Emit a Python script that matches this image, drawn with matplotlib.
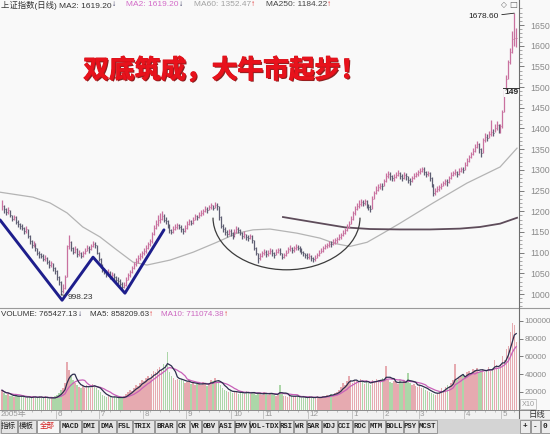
import numpy as np
import pandas as pd
import matplotlib
matplotlib.use("Agg")
import matplotlib.pyplot as plt
import matplotlib.patheffects as pe
from matplotlib.patches import Arc, Rectangle
from matplotlib.lines import Line2D
from matplotlib.ticker import MultipleLocator

plt.rcParams['font.family'] = ['Liberation Sans', 'Noto Sans CJK SC', 'DejaVu Sans']

# ---------------- daily prices (Shanghai Composite) ----------------
close = [
    1212, 1205, 1198, 1203, 1190, 1182, 1186, 1175, 1168, 1164,
    1160, 1152, 1156, 1140, 1128, 1118, 1122, 1110, 1100, 1096,
    1092, 1085, 1088, 1078, 1070, 1074, 1062, 1055, 1040, 1030,
    1008, 1014, 1040, 1115, 1125, 1110, 1102, 1108, 1096, 1100,
    1092, 1098, 1105, 1112, 1108, 1115, 1122, 1118, 1100, 1085,
    1068, 1060, 1055, 1048, 1052, 1042, 1046, 1040, 1035, 1032,
    1025, 1018, 1022, 1035, 1045, 1052, 1062, 1072, 1080, 1088,
    1092, 1098, 1105, 1112, 1120, 1128, 1145, 1160, 1170, 1178,
    1182, 1188, 1180, 1176, 1168, 1155, 1150, 1158, 1162, 1166,
    1162, 1158, 1152, 1160, 1170, 1176, 1172, 1180, 1188, 1185,
    1192, 1196, 1200, 1206, 1203, 1210, 1214, 1208, 1216, 1212,
    1185, 1165, 1158, 1150, 1145, 1152, 1148, 1140, 1150, 1158,
    1155, 1148, 1140, 1145, 1138, 1135, 1140, 1130, 1112, 1100,
    1088, 1092, 1098, 1102, 1096, 1100, 1104, 1098, 1095, 1102,
    1106, 1098, 1090, 1094, 1100, 1108, 1112, 1106, 1110, 1114,
    1112, 1108, 1102, 1098, 1094, 1090, 1092, 1086, 1084, 1088,
    1095, 1100, 1104, 1110, 1115, 1118, 1122, 1120, 1126, 1130,
    1132, 1138, 1142, 1148, 1155, 1162, 1170, 1182, 1195, 1205,
    1212, 1218, 1222, 1220, 1224, 1216, 1210, 1205, 1230, 1245,
    1252, 1258, 1262, 1260, 1272, 1285, 1290, 1284, 1280, 1282,
    1288, 1292, 1286, 1280, 1288, 1284, 1276, 1272, 1280, 1286,
    1290, 1294, 1298, 1302, 1296, 1290, 1292, 1280, 1265, 1245,
    1250, 1254, 1258, 1262, 1268, 1272, 1270, 1280, 1288, 1292,
    1296, 1290, 1298, 1302, 1300, 1312, 1322, 1330, 1338, 1345,
    1355, 1362, 1350, 1340, 1372, 1380, 1378, 1386, 1392, 1390,
    1402, 1408, 1396, 1405, 1440, 1488, 1520, 1560, 1585, 1615, 1619.2, 1619.2,
]
high = [
    1228, 1214, 1208, 1210, 1204, 1192, 1192, 1188, 1178, 1172,
    1168, 1162, 1164, 1158, 1142, 1130, 1128, 1124, 1112, 1104,
    1100, 1096, 1094, 1090, 1082, 1080, 1076, 1066, 1058, 1044,
    1032, 1024, 1046, 1118, 1142, 1128, 1114, 1116, 1110, 1106,
    1102, 1104, 1110, 1118, 1116, 1120, 1128, 1126, 1118, 1102,
    1086, 1072, 1064, 1058, 1060, 1056, 1052, 1050, 1044, 1040,
    1036, 1028, 1028, 1040, 1050, 1058, 1068, 1078, 1086, 1094,
    1098, 1104, 1110, 1118, 1126, 1134, 1150, 1166, 1180, 1190,
    1196, 1200, 1194, 1186, 1180, 1170, 1158, 1164, 1170, 1172,
    1170, 1166, 1160, 1166, 1176, 1182, 1180, 1186, 1194, 1192,
    1198, 1202, 1206, 1212, 1210, 1216, 1220, 1216, 1222, 1220,
    1212, 1188, 1170, 1162, 1154, 1158, 1156, 1150, 1156, 1164,
    1162, 1158, 1150, 1152, 1146, 1142, 1146, 1142, 1130, 1114,
    1100, 1098, 1104, 1108, 1106, 1106, 1110, 1108, 1102, 1108,
    1112, 1110, 1100, 1100, 1106, 1114, 1118, 1114, 1116, 1120,
    1118, 1116, 1110, 1104, 1100, 1098, 1098, 1094, 1090, 1094,
    1100, 1106, 1110, 1116, 1120, 1124, 1128, 1128, 1132, 1136,
    1138, 1144, 1148, 1154, 1160, 1168, 1176, 1188, 1200, 1212,
    1220, 1226, 1230, 1228, 1230, 1226, 1218, 1214, 1236, 1250,
    1260, 1266, 1268, 1268, 1278, 1292, 1298, 1294, 1288, 1290,
    1294, 1300, 1296, 1290, 1294, 1292, 1286, 1280, 1286, 1292,
    1296, 1300, 1304, 1308, 1306, 1298, 1298, 1294, 1282, 1266,
    1256, 1260, 1264, 1268, 1274, 1278, 1278, 1286, 1294, 1298,
    1302, 1298, 1304, 1308, 1308, 1318, 1328, 1336, 1344, 1352,
    1362, 1370, 1366, 1352, 1378, 1388, 1386, 1394, 1420, 1398,
    1410, 1418, 1412, 1410, 1445, 1492, 1530, 1566, 1595, 1635, 1678.6, 1642,
]
low = [
    1204, 1196, 1192, 1194, 1186, 1176, 1178, 1170, 1162, 1158,
    1154, 1146, 1148, 1136, 1122, 1112, 1114, 1104, 1094, 1088,
    1086, 1080, 1080, 1072, 1064, 1066, 1056, 1048, 1034, 1022,
    998.23, 1002, 1012, 1040, 1108, 1104, 1096, 1098, 1090, 1092,
    1086, 1090, 1096, 1104, 1100, 1106, 1114, 1110, 1096, 1080,
    1064, 1054, 1048, 1042, 1044, 1036, 1038, 1034, 1028, 1024,
    1020, 1012, 1014, 1020, 1034, 1042, 1050, 1060, 1068, 1076,
    1082, 1088, 1094, 1100, 1108, 1116, 1124, 1142, 1156, 1164,
    1172, 1178, 1174, 1168, 1160, 1148, 1144, 1148, 1154, 1158,
    1156, 1150, 1146, 1150, 1158, 1166, 1166, 1170, 1178, 1178,
    1184, 1188, 1192, 1198, 1196, 1202, 1206, 1202, 1208, 1204,
    1180, 1160, 1150, 1142, 1138, 1142, 1140, 1134, 1138, 1148,
    1148, 1142, 1134, 1136, 1130, 1128, 1132, 1124, 1106, 1094,
    1076, 1082, 1090, 1094, 1090, 1092, 1096, 1092, 1088, 1094,
    1098, 1094, 1084, 1086, 1092, 1100, 1104, 1100, 1102, 1106,
    1106, 1102, 1096, 1092, 1088, 1084, 1084, 1080, 1078, 1080,
    1086, 1092, 1098, 1102, 1108, 1110, 1114, 1114, 1118, 1122,
    1124, 1130, 1134, 1140, 1146, 1152, 1160, 1168, 1180, 1192,
    1202, 1208, 1212, 1212, 1214, 1208, 1202, 1198, 1206, 1230,
    1242, 1250, 1254, 1252, 1260, 1270, 1280, 1276, 1272, 1274,
    1280, 1284, 1278, 1272, 1278, 1276, 1268, 1264, 1270, 1278,
    1282, 1286, 1290, 1294, 1288, 1282, 1284, 1272, 1258, 1238,
    1240, 1246, 1250, 1254, 1260, 1264, 1262, 1268, 1278, 1284,
    1288, 1282, 1288, 1294, 1292, 1300, 1310, 1320, 1328, 1336,
    1344, 1352, 1340, 1330, 1340, 1368, 1370, 1376, 1382, 1382,
    1392, 1396, 1388, 1390, 1402, 1440, 1486, 1520, 1556, 1582, 1600, 1597,
]
volume = [
    220000, 190000, 170000, 180000, 150000, 160000, 140000, 170000, 150000, 140000,
    160000, 140000, 130000, 150000, 140000, 130000, 160000, 140000, 130000, 150000,
    140000, 130000, 150000, 130000, 120000, 140000, 130000, 150000, 170000, 190000,
    220000, 250000, 300000, 540000, 450000, 380000, 330000, 300000, 280000, 260000,
    250000, 270000, 240000, 280000, 260000, 250000, 290000, 270000, 240000, 220000,
    200000, 170000, 150000, 140000, 160000, 140000, 130000, 150000, 140000, 130000,
    140000, 130000, 150000, 180000, 200000, 220000, 210000, 250000, 280000, 270000,
    300000, 340000, 320000, 360000, 380000, 350000, 400000, 440000, 420000, 460000,
    480000, 450000, 520000, 500000, 650000, 420000, 380000, 360000, 340000, 350000,
    330000, 350000, 320000, 300000, 310000, 330000, 290000, 300000, 280000, 290000,
    300000, 280000, 310000, 290000, 270000, 300000, 340000, 320000, 360000, 300000,
    320000, 280000, 250000, 220000, 210000, 200000, 220000, 190000, 210000, 200000,
    180000, 200000, 190000, 180000, 210000, 190000, 180000, 200000, 190000, 170000,
    190000, 180000, 170000, 200000, 180000, 170000, 190000, 180000, 170000, 160000,
    170000, 280000, 180000, 150000, 160000, 140000, 170000, 150000, 140000, 160000,
    150000, 140000, 130000, 150000, 140000, 130000, 150000, 140000, 130000, 140000,
    150000, 130000, 140000, 160000, 150000, 170000, 160000, 180000, 170000, 190000,
    200000, 220000, 260000, 300000, 280000, 320000, 380000, 340000, 300000, 330000,
    320000, 300000, 350000, 310000, 290000, 330000, 300000, 280000, 340000, 320000,
    350000, 330000, 310000, 360000, 340000, 490000, 330000, 310000, 300000, 320000,
    310000, 290000, 330000, 300000, 320000, 310000, 410000, 300000, 280000, 290000,
    270000, 260000, 280000, 250000, 240000, 220000, 210000, 200000, 190000, 180000,
    170000, 190000, 210000, 240000, 220000, 260000, 280000, 270000, 300000, 330000,
    510000, 340000, 360000, 380000, 400000, 370000, 420000, 440000, 410000, 460000,
    450000, 470000, 430000, 440000, 460000, 420000, 450000, 480000, 440000, 470000,
    560000, 500000, 460000, 520000, 600000, 560000, 679695.65, 715621.02, 880000,
    980000, 950000, 765427.13,
]
assert len(close) == len(high) == len(low) == len(volume)

# moving-average curves (bar index, index level)
ma60_bar = [-1, 15.7, 24.4, 33, 41, 49.7, 58.4, 66.5, 73.6, 85.3, 97, 109, 119.3,
            127.4, 136, 149.7, 161.4, 169, 176.6, 185.3, 193.4, 202, 218.8, 236,
            252.8, 261.4]
ma60_val = [1246, 1234, 1220, 1196, 1162, 1138, 1106, 1077, 1070, 1082, 1101, 1125,
            1147, 1155, 1157, 1147, 1135, 1122, 1115, 1125, 1147, 1171, 1220, 1268,
            1307, 1352.47]
ma250_bar = [142.6, 151.3, 161.4, 174.1, 186.8, 202, 217.3, 232.5, 242.6, 252.8, 261.4]
ma250_val = [1186, 1179, 1171, 1161, 1157, 1156, 1156, 1158, 1162, 1170, 1184.22]

# hand-drawn "double bottom" W and the rounded bottom
w_bar = [-1.0, 30.5, 46.2, 62.4, 82.2]
w_val = [1179, 985, 1089, 1002, 1155]
bowl_bar, bowl_val = 144.4, 1184.5
bowl_half_bars, bowl_depth = 37.3, 126

month_bars = [28, 50, 72, 94, 117, 133, 156, 178, 194, 212, 235, 254]
month_labels = ['6', '7', '8', '9', '10', '11', '12', '1', '2', '3', '4', '5']
price_ticks = list(range(1000, 1651, 50))
volume_ticks = [20000, 40000, 60000, 80000, 100000]

tab_labels = ['指标', '模板', '全部', 'MACD', 'DMI', 'DMA', 'FSL', 'TRIX', 'BRAR', 'CR',
              'VR', 'OBV', 'ASI', 'EMV', 'VOL-TDX', 'RSI', 'WR', 'SAR', 'KDJ', 'CCI',
              'ROC', 'MTM', 'BOLL', 'PSY', 'MCST']
tab_edges = [0, 17, 36, 59, 81, 98, 116, 132, 154, 176, 189, 201, 218, 234, 249, 279,
             293, 306, 321, 337, 352, 368, 385, 403, 418, 437]

# ---------------- layout helpers (pixel space, y downwards) ----------------
W, H = 550, 434
fig = plt.figure(figsize=(W / 100, H / 100), dpi=100)
fig.patch.set_facecolor('#f9f9f9')


def fx(px):
    return px / W


def fy(py):
    return 1 - py / H


def px_axes(x0, y0, x1, y1):
    a = fig.add_axes([x0 / W, 1 - y1 / H, (x1 - x0) / W, (y1 - y0) / H])
    a.patch.set_alpha(0)
    for s in a.spines.values():
        s.set_visible(False)
    return a


X0, X1 = -1.015, 262.4
UPC, DNC = '#c9719f', '#5e5e72'

c = np.array(close, float)
h = np.array(high, float)
l = np.array(low, float)
v = np.array(volume, float) / 10.0
idx = np.arange(len(c))
prev = np.r_[c[0], c[:-1]]
up = c >= prev

# ---------------- price panel ----------------
ax = px_axes(0, 8, 519, 307)
ax.set_xlim(X0, X1)
ax.set_ylim(968.6, 1691.1)
ax.set_xticks([])
ax.yaxis.tick_right()
ax.set_yticks(price_ticks)
ax.yaxis.set_minor_locator(MultipleLocator(10))
ax.tick_params(axis='y', which='major', direction='out', length=3.5, width=0.6,
               color='#666666', labelsize=6.3, labelcolor='#8a8a8a', pad=4.5)
ax.tick_params(axis='y', which='minor', direction='out', length=2, width=0.5,
               color='#888888')

ax.plot(ma60_bar, ma60_val, color='#b4b4b4', lw=0.9, zorder=1)
ax.plot(ma250_bar, ma250_val, color='#5e4c5a', lw=1.3, zorder=1)

ax.vlines(idx[up], l[up], h[up], colors=UPC, lw=0.9, zorder=2)
ax.vlines(idx[~up], l[~up], h[~up], colors=DNC, lw=0.9, zorder=2)
ax.hlines(c[up], idx[up], idx[up] + 0.5, colors=UPC, lw=0.7, zorder=2)
ax.hlines(c[~up], idx[~up], idx[~up] + 0.5, colors=DNC, lw=0.7, zorder=2)

ax.plot(w_bar, w_val, color='#1e1e8c', lw=2.1, zorder=3, solid_capstyle='round')
ax.add_patch(Arc((bowl_bar, bowl_val), 2 * bowl_half_bars, 2 * bowl_depth,
                 theta1=180, theta2=360, color='#3c3c3c', lw=0.9, zorder=3))

peak_i = int(np.argmax(h))
ax.annotate(f'{h[peak_i]:.2f}', xy=(peak_i, h[peak_i]), xytext=(-11, -2.6),
            textcoords='offset points', ha='right', va='center', fontsize=6,
            color='#222222', arrowprops=dict(arrowstyle='-', lw=0.6, color='#222222',
                                             shrinkA=0, shrinkB=0))
low_i = int(np.argmin(l))
ax.annotate(f'{l[low_i]:.2f}', xy=(low_i, l[low_i]), xytext=(4.5, -2.2),
            textcoords='offset points', ha='left', va='center', fontsize=6,
            color='#333333', arrowprops=dict(arrowstyle='-', lw=0.6, color='#333333',
                                             shrinkA=0, shrinkB=0))

# ---------------- volume panel ----------------
vax = px_axes(0, 309, 519, 410)
vax.set_xlim(X0, X1)
vax.set_ylim(-282, 113521)
vax.set_xticks([])
vax.bar(idx[up], v[up], width=0.75, color='#e6aab0', lw=0, zorder=1)
vax.bar(idx[~up], v[~up], width=0.75, color='#acd6a8', lw=0, zorder=1)
ma5 = pd.Series(v).rolling(5, min_periods=1).mean()
ma10 = pd.Series(v).rolling(10, min_periods=1).mean()
vax.plot(idx, ma10, color='#c860b8', lw=0.9, zorder=2)
vax.plot(idx, ma5, color='#2e2e4e', lw=0.9, zorder=3)
vax.yaxis.tick_right()
vax.set_yticks(volume_ticks)
vax.tick_params(axis='y', direction='out', length=3, width=0.6, color='#666666',
                labelsize=5.8, labelcolor='#8a8a8a', pad=1.2)

# ---------------- date row ----------------
dax = px_axes(0, 410, 519, 418.5)
dax.patch.set_alpha(1)
dax.patch.set_facecolor('#f1f1f1')
dax.set_xlim(X0, X1)
dax.set_ylim(1, 0)
dax.set_xticks([])
dax.set_yticks([])
dax.vlines(np.arange(0, len(c), 5), 0, 0.28, color='#a8a8a8', lw=0.5)
dax.vlines(np.array(month_bars) - 0.6, 0, 1, color='#bdbdbd', lw=0.6)
for b, lab in zip(month_bars, month_labels):
    dax.text(b + 0.2, 0.58, lab, fontsize=5.8, color='#9a9a9a', ha='left', va='center')
fig.text(fx(1), fy(414.3), '2005年', fontsize=5.8, color='#9a9a9a', ha='left',
         va='center')
fig.add_artist(Rectangle((fx(519), fy(418.5)), fx(31), 8.5 / H, transform=fig.transFigure,
                         fc='#f1f1f1', ec='none'))
fig.text(fx(537), fy(414.3), '日线', fontsize=6, color='#333333', ha='center',
         va='center', family=['Noto Sans CJK SC'])

# ---------------- tab strip ----------------
tax = px_axes(0, 418.5, 550, 434)
tax.set_xlim(0, 550)
tax.set_ylim(15.5, 0)
tax.set_xticks([])
tax.set_yticks([])
tax.add_patch(Rectangle((0, 0), 550, 15.5, fc='#d4d4d4', ec='none'))
for k, lab in enumerate(tab_labels):
    x0, x1 = tab_edges[k], tab_edges[k + 1]
    cjk = not lab.isascii()
    face = '#f6f6f6' if lab == '全部' else '#e4e4e4'
    tax.add_patch(Rectangle((x0 + 0.5, 1), x1 - x0 - 1, 13.5, fc=face, ec='#8c8c8c', lw=0.6))
    tax.text((x0 + x1) / 2, 7.8, lab, ha='center', va='center',
             fontsize=5.4 if cjk else 5.2,
             family=['Noto Sans CJK SC'] if cjk else ['Liberation Mono'],
             fontweight='normal' if cjk else 'bold',
             color='#d42020' if lab == '全部' else '#222222')
for x0, x1, lab in [(519, 530, '+'), (530, 540, '-'), (540, 550, '0')]:
    tax.add_patch(Rectangle((x0 + 0.5, 1), x1 - x0 - 1, 13.5, fc='#ececec', ec='#8c8c8c',
                            lw=0.6))
    tax.text((x0 + x1) / 2, 7.8, lab, ha='center', va='center', fontsize=5.6,
             color='#222222', family=['Liberation Mono'], fontweight='bold')

# ---------------- frame lines ----------------
fig.add_artist(Line2D([0, 1], [fy(308), fy(308)], transform=fig.transFigure,
                      color='#9a9a9a', lw=0.8))
fig.add_artist(Line2D([0, 1], [fy(410), fy(410)], transform=fig.transFigure,
                      color='#8a8a8a', lw=0.7))
fig.add_artist(Line2D([fx(519), fx(519)], [fy(0), fy(418)], transform=fig.transFigure,
                      color='#6e6e6e', lw=0.8))

# ---------------- headers ----------------
renderer = fig.canvas.get_renderer()


def flow(x, y, parts, size):
    for s, col, gap in parts:
        t = fig.text(fx(x), fy(y), s, fontsize=size, color=col, ha='left', va='center')
        x += t.get_window_extent(renderer).width + gap


flow(1, 5, [('上证指数(日线) MA2: 1619.20', '#333333', 0.5), ('↓', '#2a2a55', 10),
            ('MA2: 1619.20', '#d36bc8', 0.5), ('↓', '#2a2a55', 10),
            ('MA60: 1352.47', '#a2a2a2', 0.5), ('↑', '#e02828', 10),
            ('MA250: 1184.22', '#444444', 0.5), ('↑', '#e02828', 0)], 6.0)
flow(1, 315, [('VOLUME: 765427.13', '#333333', 0.5), ('↓', '#2a2a55', 8),
              ('MA5: 858209.63', '#333333', 0.5), ('↑', '#e02828', 8),
              ('MA10: 711074.38', '#cc66c0', 0.5), ('↑', '#e02828', 0)], 5.8)

fig.text(fx(504), fy(5), '◇', fontsize=5.5, color='#666666', ha='center', va='center',
         family=['DejaVu Sans'])
fig.text(fx(513), fy(5), '□', fontsize=6, color='#666666', ha='center', va='center',
         family=['DejaVu Sans'])

fig.add_artist(Line2D([fx(503), fx(519)], [fy(88), fy(88)], transform=fig.transFigure,
                      color='#333333', lw=0.7))
fig.text(fx(511.5), fy(93), '149', fontsize=6, fontweight='bold', color='#222222',
         ha='center', va='center',
         bbox=dict(boxstyle='square,pad=0.1', fc='#f9f9f9', ec='none'))
fig.text(fx(528), fy(404), 'X10', fontsize=5.2, color='#9a9a9a', ha='center', va='center',
         bbox=dict(boxstyle='square,pad=0.2', fc='none', ec='#b0b0b0', lw=0.5))

fig.text(fx(225), fy(70.5), '双底筑成，大牛市起步！', fontsize=18.5, fontweight='bold',
         color='#e8121c', ha='center', va='center', family=['Noto Sans CJK SC'],
         path_effects=[pe.SimplePatchShadow(offset=(1.0, -1.0), shadow_rgbFace='#7c0a0a',
                                            alpha=0.9),
                       pe.Stroke(linewidth=0.8, foreground='#d81018'), pe.Normal()])

fig.savefig('out.png', dpi=100, facecolor=fig.get_facecolor())
